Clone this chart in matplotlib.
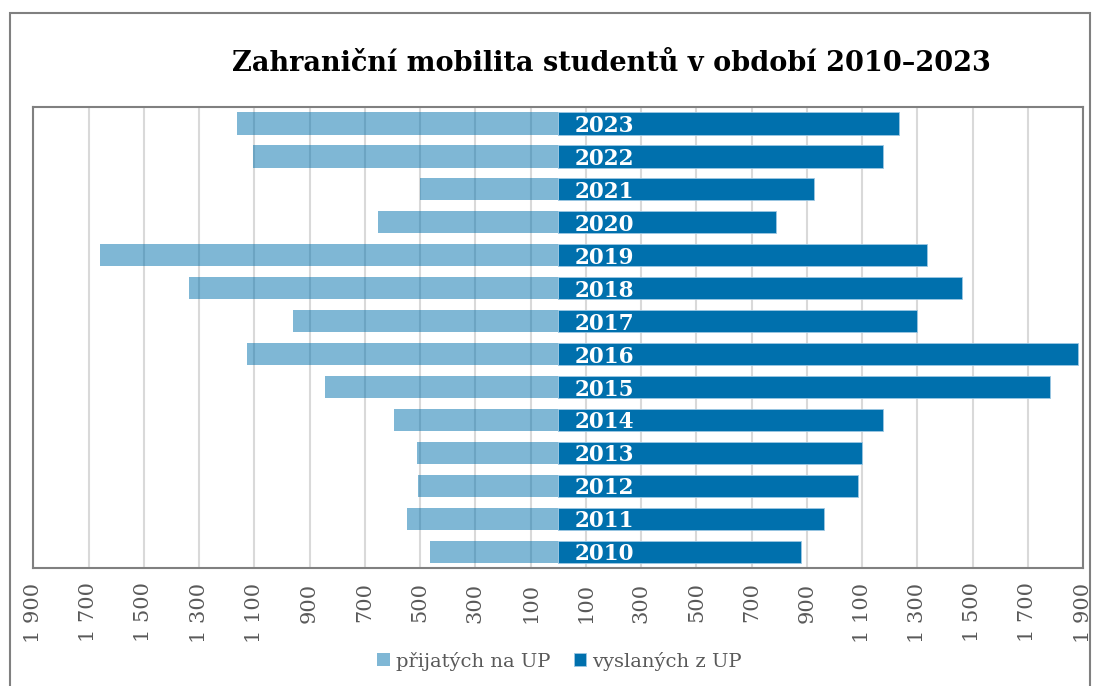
import matplotlib
matplotlib.use("Agg")
import matplotlib.pyplot as plt
import matplotlib.patches as patches
import numpy as np

years = [2010, 2011, 2012, 2013, 2014, 2015, 2016, 2017, 2018, 2019, 2020, 2021, 2022, 2023]
prijatych = [463, 547, 507, 512, 594, 844, 1128, 959, 1336, 1659, 652, 500, 1104, 1163]
vyslanych = [878, 964, 1087, 1100, 1174, 1782, 1881, 1298, 1463, 1335, 788, 926, 1174, 1235]
tick_vals = [-1900, -1700, -1500, -1300, -1100, -900, -700, -500, -300, -100,
             100, 300, 500, 700, 900, 1100, 1300, 1500, 1700, 1900]

title = "Zahraniční mobilita studentů v období 2010–2023"
dark = "#0070AD"
grey_txt = "#595959"

plt.rcParams['font.family'] = ['DejaVu Serif']

fig = plt.figure(figsize=(10.93, 6.86), dpi=100)
ax = fig.add_axes([0.0305, 0.1713, 0.9604, 0.6727])

y = np.arange(len(years))
ax.barh(y, [-v for v in prijatych], height=0.67, color=dark, alpha=0.5,
        label="přijatých na UP", zorder=3)
ax.barh(y, vyslanych, height=0.67, color=dark, edgecolor="#9cc7e3", linewidth=0.6,
        label="vyslaných z UP", zorder=3)

for yi, yr in zip(y, years):
    ax.text(60, yi - 0.07, str(yr), color="white", fontweight="bold",
            fontsize=15.5, ha="left", va="center", zorder=5)

ax.set_xlim(-1900, 1900)
ax.set_ylim(-0.5, len(years) - 0.5)
ax.set_yticks([])
ax.set_xticks(tick_vals)
ax.set_xticklabels([f"{abs(v):,}".replace(",", " ") for v in tick_vals],
                   rotation=90, fontsize=15, color=grey_txt, va="top")
ax.tick_params(axis="x", length=0, pad=10)
ax.grid(axis="x", color="#d9d9d9", linewidth=1.5, zorder=0)
ax.set_axisbelow(True)
for s in ax.spines.values():
    s.set_color("#808080")
    s.set_linewidth(1.5)

fig.text(0.559, 0.908, title, ha="center", va="center", fontsize=19.5,
         fontweight="bold", color="black")

leg = fig.legend(loc="center", bbox_to_anchor=(0.512, 0.036), ncol=2, frameon=False,
                 fontsize=14, handlelength=0.65, handleheight=0.65, handletextpad=0.3,
                 columnspacing=1.2)
for t in leg.get_texts():
    t.set_color(grey_txt)

border = patches.Rectangle((10 / 1093, -0.1), 1080 / 1093, 1.1 - 13 / 686,
                           transform=fig.transFigure, fill=False,
                           edgecolor="#808080", linewidth=1.5, clip_on=False)
fig.patches.append(border)

fig.savefig("out.png", dpi=100)
